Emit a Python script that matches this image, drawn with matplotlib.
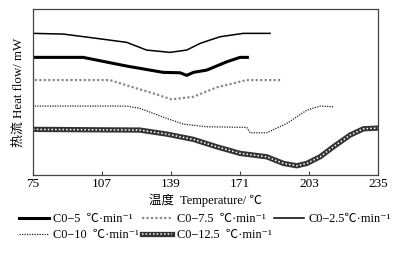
import numpy as np
import matplotlib
matplotlib.use("Agg")
import matplotlib.pyplot as plt
from matplotlib.legend_handler import HandlerTuple

plt.rcParams['font.family'] = ['Liberation Serif', 'Noto Sans CJK SC', 'DejaVu Sans']
plt.rcParams['axes.unicode_minus'] = False

# temperature (C) / heat flow (arbitrary, offset)
t_25 = [75.1, 89.1, 104.5, 118.5, 127.7, 138.5, 146.3, 152.5, 161.7, 172.5, 184.9]
h_25 = [141.7, 141.0, 136.7, 132.7, 125.0, 122.7, 125.0, 131.7, 138.3, 141.7, 141.7]

t_5 = [75.1, 98.3, 118.5, 135.4, 143.2, 146.3, 149.4, 155.6, 164.9, 171.0, 174.4]
h_5 = [117.7, 117.7, 109.0, 102.7, 102.3, 99.7, 102.7, 105.0, 113.3, 117.7, 117.7]

t_75 = [75.9, 110.7, 121.5, 130.8, 139.3, 149.4, 160.2, 174.1, 189.6]
h_75 = [95.0, 95.0, 87.7, 81.7, 75.7, 78.3, 87.7, 95.0, 95.0]

t_10 = [75.9, 118.5, 124.6, 130.8, 137.0, 144.7, 155.6, 174.1, 175.7, 183.4, 192.7, 202.0, 208.1, 214.3]
h_10 = [69.0, 69.0, 66.7, 61.7, 56.7, 51.0, 48.3, 47.7, 42.3, 42.3, 51.7, 65.0, 69.0, 68.3]

t_125 = [75.1, 124.6, 137.0, 149.4, 160.2, 171.0, 183.4, 191.1, 197.3, 202.0, 208.1, 214.3, 222.0, 228.2, 234.9]
h_125 = [45.7, 45.0, 41.0, 35.7, 28.3, 21.7, 18.3, 11.7, 9.3, 11.7, 18.3, 28.3, 40.0, 46.3, 47.0]

xticks = [75, 107, 139, 171, 203, 235]

fig = plt.figure(figsize=(4.11, 2.59), dpi=100)
ax = fig.add_axes([0.080, 0.324, 0.840, 0.641])

l5, = ax.plot(t_5, h_5, color='black', lw=2.2)
l75, = ax.plot(t_75, h_75, color='#8a8a8a', lw=1.6, ls=(0, (1, 1)))
l25, = ax.plot(t_25, h_25, color='black', lw=1.1)
l10, = ax.plot(t_10, h_10, color='#222222', lw=0.9, ls=(0, (1, 1)))
# chain-like line: thick dark base with a white dotted core
l125a, = ax.plot(t_125, h_125, color='#333333', lw=3.8)
l125b, = ax.plot(t_125, h_125, color='white', lw=1.1, ls=(0, (1.0, 1.4)))

ax.set_xlim(75, 235)
ax.set_ylim(0, 166)
ax.set_xticks(xticks)
ax.set_yticks([])
ax.tick_params(axis='x', direction='in', length=3, labelsize=9.5, pad=2, color='#444444')
for s in ax.spines.values():
    s.set_color('#444444')
    s.set_linewidth(0.9)

ax.set_xlabel('温度  Temperature/ \u2103', fontsize=9, labelpad=3)
ax.set_ylabel('热流 Heat flow/ mW', fontsize=9.3, labelpad=6)

lab5 = 'C0\u22125  \u2103\u00b7min\u207b\u00b9'
lab75 = 'C0\u22127.5  \u2103\u00b7min\u207b\u00b9'
lab25 = 'C0\u22122.5\u2103\u00b7min\u207b\u00b9'
lab10 = 'C0\u221210  \u2103\u00b7min\u207b\u00b9'
lab125 = 'C0\u221212.5  \u2103\u00b7min\u207b\u00b9'

handles = [l5, l10, l75, (l125a, l125b), l25]
labels = [lab5, lab10, lab75, lab125, lab25]
fig.legend(handles, labels, ncol=3, loc='upper left',
           bbox_to_anchor=(0.035, 0.195), frameon=False, fontsize=8.8,
           handlelength=2.4, handletextpad=0.4, columnspacing=0.25, labelspacing=0.3,
           borderaxespad=0, handler_map={tuple: HandlerTuple(ndivide=1, pad=0)})

fig.savefig('out.png', dpi=100)
